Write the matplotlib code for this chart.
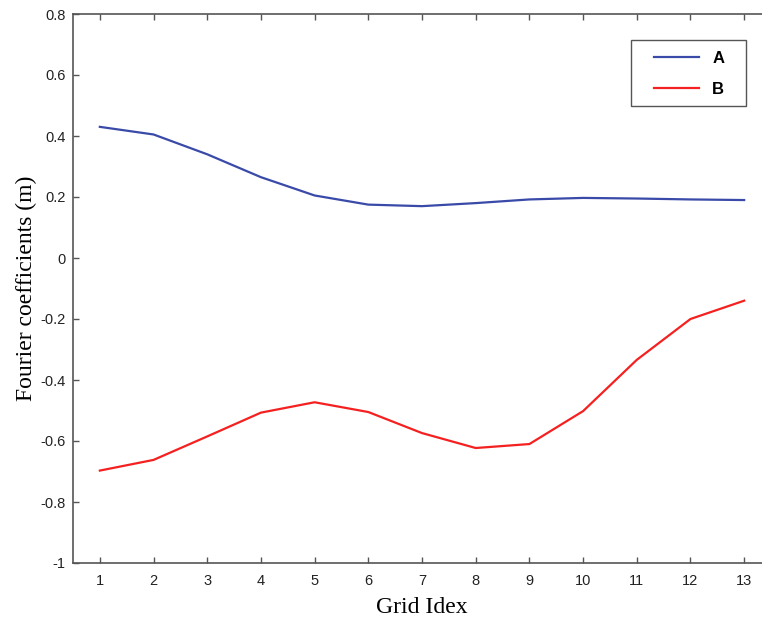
import matplotlib
matplotlib.use("Agg")
import matplotlib.pyplot as plt
from matplotlib.patches import Rectangle

grid_idx = list(range(1, 14))
series_a = [0.430, 0.405, 0.340, 0.265, 0.205, 0.175, 0.170, 0.180, 0.192, 0.197, 0.195, 0.192, 0.190]
series_b = [-0.697, -0.662, -0.585, -0.507, -0.473, -0.505, -0.574, -0.623, -0.610, -0.502, -0.334, -0.200, -0.140]
yticks = [-1, -0.8, -0.6, -0.4, -0.2, 0, 0.2, 0.4, 0.6, 0.8]
ytick_labels = ["-1", "-0.8", "-0.6", "-0.4", "-0.2", "0", "0.2", "0.4", "0.6", "0.8"]

W, H = 762, 621
fig = plt.figure(figsize=(W/100, H/100), dpi=100)
ax = fig.add_axes([73/W, 58/H, 698/W, 549/H])

ax.plot(grid_idx, series_a, color="#3a4aa8", lw=1.6, label="A")
ax.plot(grid_idx, series_b, color="#f52020", lw=1.6, label="B")

ax.set_xlim(0.5, 13.5)
ax.set_ylim(-1, 0.8)
ax.set_xticks(grid_idx)
ax.set_yticks(yticks)
ax.set_yticklabels(ytick_labels)

for s in ax.spines.values():
    s.set_color("#555555")
    s.set_linewidth(1.2)
ax.tick_params(direction="in", length=4, width=1, color="#555555", top=True,
               labelsize=10.5, labelcolor="#222222")
ax.tick_params(axis="x", pad=8)
ax.tick_params(axis="y", pad=5.5)
for lab in ax.get_xticklabels() + ax.get_yticklabels():
    lab.set_family(["Liberation Sans", "DejaVu Sans"])

ax.set_xlabel("Grid Idex", family=["Liberation Serif"], fontsize=17, labelpad=6.5)
ax.set_ylabel("Fourier coefficients (m)", family=["Liberation Serif"], fontsize=17, labelpad=2.5)

leg = ax.legend(loc="upper left", bbox_to_anchor=(654/W, 1 - 51/H),
                bbox_transform=fig.transFigure,
                prop={"family": "Liberation Sans", "weight": "bold", "size": 12},
                frameon=False, handlelength=2.7, borderpad=0, labelspacing=0.93,
                handletextpad=0.8, borderaxespad=0)
frame = Rectangle((631/W, 1 - 106/H), 115/W, 66/H, transform=fig.transFigure,
                  facecolor="white", edgecolor="#555555", lw=1.0, zorder=4)
fig.add_artist(frame)
leg.set_zorder(5)
fig.add_artist(leg)

fig.savefig("out.png", dpi=100)
